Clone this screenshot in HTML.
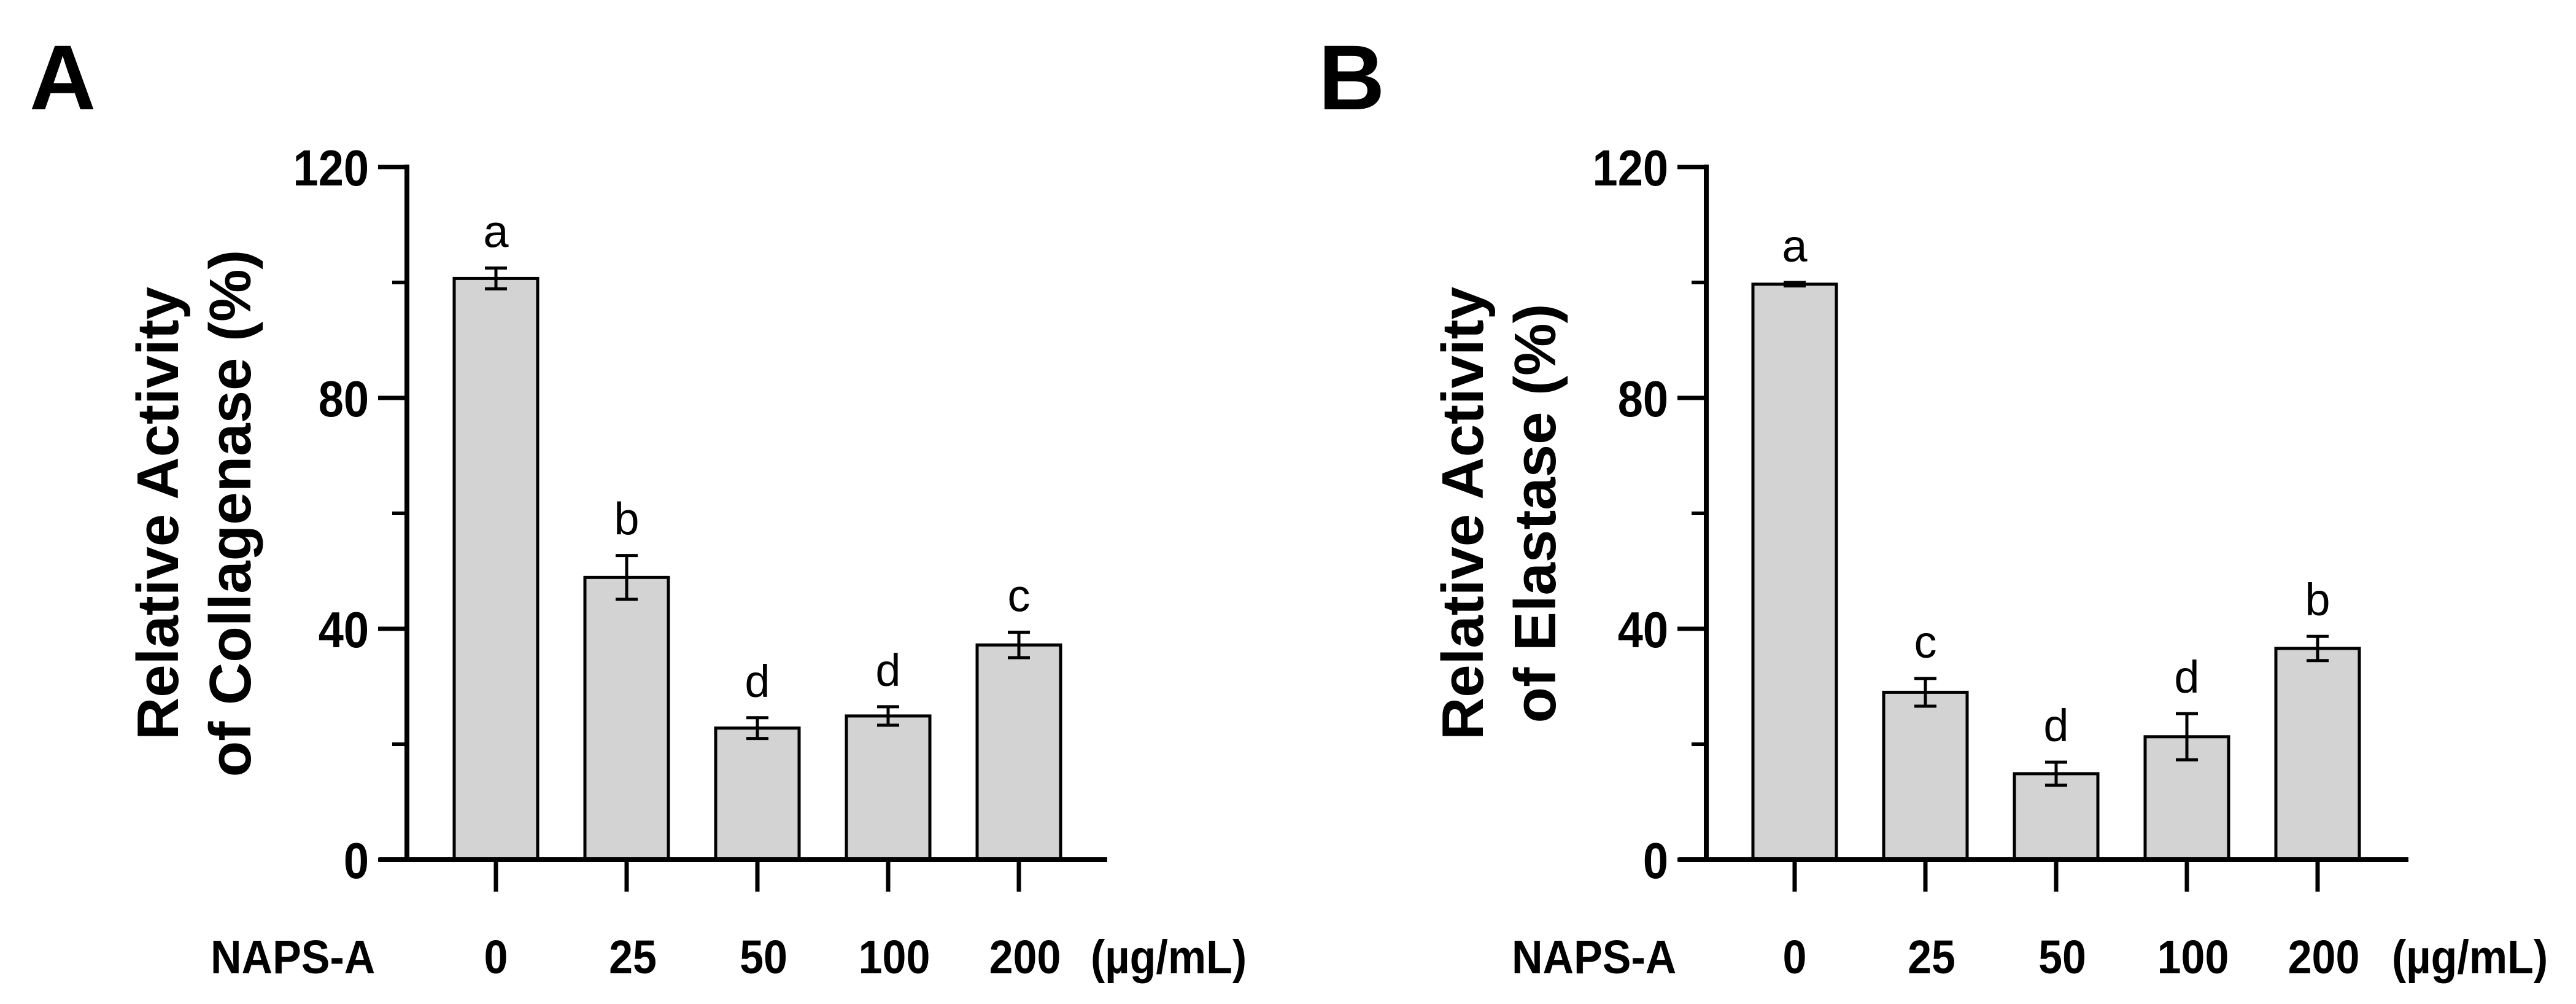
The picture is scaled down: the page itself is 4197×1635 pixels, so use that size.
<!DOCTYPE html>
<html><head><meta charset="utf-8"><style>
html,body{margin:0;padding:0;background:#fff}
svg{display:block}
text{font-family:"Liberation Sans",Arial,sans-serif}
</style></head><body>
<svg id="fig" width="4197" height="1635" viewBox="0 0 4197 1635" xmlns="http://www.w3.org/2000/svg"></svg>
<script>
const categories = ["0","25","50","100","200"];
const collagenaseValues = [100.7, 48.9, 22.8, 24.9, 37.2];
const collagenaseErrors = [1.8, 3.8, 1.8, 1.6, 2.2];
const collagenaseLetters = ["a","b","d","d","c"];
const elastaseValues = [99.7, 29.0, 14.9, 21.3, 36.6];
const elastaseErrors = [0.3, 2.4, 2.0, 4.0, 2.1];
const elastaseLetters = ["a","c","d","d","b"];
const majorTicks = [0, 40, 80, 120];
const minorTicks = [20, 60, 100];

const NS = "http://www.w3.org/2000/svg";
const svg = document.getElementById("fig");
function mk(tag, attrs, parent, txt){
  const e = document.createElementNS(NS, tag);
  for (const k in attrs) e.setAttribute(k, attrs[k]);
  if (txt !== undefined) e.textContent = txt;
  (parent || svg).appendChild(e);
  return e;
}

function panel(cfg){
  const g = mk("g", {});
  
  
  const ax = cfg.axisX, y0 = 1400, yTop = 272, xEnd = cfg.xEnd;
  const yS = v => y0 - (v / 120) * (y0 - yTop);
  const xC = i => cfg.firstCenter + i * 213;
  const bw = 136;

  const lbl = mk("text", {x: cfg.letterX, y: 178, "font-size": 150, "font-weight": "bold"}, g, cfg.letter);
  
  

  cfg.values.forEach((v, i) => {
    const b = mk("rect", {x: xC(i) - bw/2, y: yS(v), width: bw, height: y0 - yS(v), fill: "#d3d3d3", stroke: "#000", "stroke-width": 5}, g);
    
    
    const e = cfg.errors[i], top = yS(v + e), bot = yS(v - e);
    const eg = mk("g", {stroke: "#000", "stroke-width": 5}, g);
    
    
    mk("line", {x1: xC(i), x2: xC(i), y1: top, y2: bot}, eg);
    mk("line", {x1: xC(i) - 18, x2: xC(i) + 18, y1: top, y2: top}, eg);
    mk("line", {x1: xC(i) - 18, x2: xC(i) + 18, y1: bot, y2: bot}, eg);
    const t = mk("text", {x: xC(i), y: top - 34, "font-size": 74, "text-anchor": "middle"}, g, cfg.letters[i]);
    
    
    const tk = mk("line", {x1: xC(i), x2: xC(i), y1: y0, y2: 1452, stroke: "#000", "stroke-width": 7}, g);
    
    
    const xl = mk("text", {transform: `translate(${xC(i) + (i === 0 ? 0 : 10)},1585) scale(1,1.1)`, "font-size": 70, "font-weight": "bold", "text-anchor": "middle"}, g, categories[i]);
    
    
  });

  const ya = mk("line", {x1: ax, x2: ax, y1: yTop - 4, y2: y0 + 4, stroke: "#000", "stroke-width": 8}, g);
  
  
  const xa = mk("line", {x1: ax - 45, x2: xEnd, y1: y0, y2: y0, stroke: "#000", "stroke-width": 8}, g);
  
  
  majorTicks.forEach(v => {
    const l = mk("line", {x1: ax - 47, x2: ax, y1: yS(v), y2: yS(v), stroke: "#000", "stroke-width": 7}, g);
    
    
    const t = mk("text", {transform: `translate(${ax - 62},${yS(v) + 30}) scale(1,1.12)`, "font-size": 74, "font-weight": "bold", "text-anchor": "end"}, g, String(v));
    
    
  });
  minorTicks.forEach(v => {
    const l = mk("line", {x1: ax - 24, x2: ax, y1: yS(v), y2: yS(v), stroke: "#000", "stroke-width": 6}, g);
    
    
  });

  const yt = mk("text", {transform: `translate(${cfg.titleX},836) rotate(-90)`, "font-size": 96, "font-weight": "bold", "text-anchor": "middle"}, g);
  
  
  mk("tspan", {x: 0, y: 0}, yt, "Relative Activity");
  mk("tspan", {x: 0, y: 118}, yt, cfg.title2);

  const n = mk("text", {transform: `translate(${cfg.napsX},1585) scale(1,1.1)`, "font-size": 70, "font-weight": "bold"}, g, "NAPS-A");
  
  
  const u = mk("text", {transform: `translate(${cfg.unitX},1585) scale(1,1.1)`, "font-size": 70, "font-weight": "bold"}, g, "(µg/mL)");
  
  
}

panel({name: "panel-a-collagenase", letter: "A", letterX: 48, axisX: 663, xEnd: 1804, firstCenter: 808,
  values: collagenaseValues, errors: collagenaseErrors, letters: collagenaseLetters,
  titleX: 290, title2: "of Collagenase (%)", napsX: 343, unitX: 1777});
panel({name: "panel-b-elastase", letter: "B", letterX: 2148, axisX: 2780, xEnd: 3924, firstCenter: 2924,
  values: elastaseValues, errors: elastaseErrors, letters: elastaseLetters,
  titleX: 2416, title2: "of Elastase (%)", napsX: 2463, unitX: 3897});
</script>
</body></html>
